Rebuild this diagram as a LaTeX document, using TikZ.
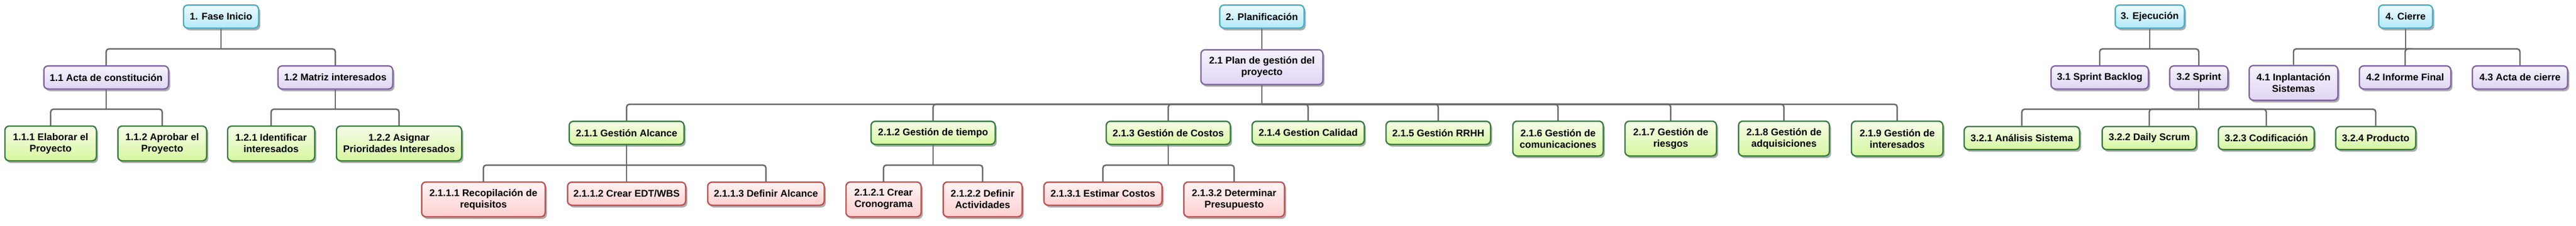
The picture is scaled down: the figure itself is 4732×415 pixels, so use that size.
\documentclass[tikz,border=0pt]{standalone}
\usepackage{fontspec}
\setmainfont{Liberation Sans}
\usetikzlibrary{shadows}
\definecolor{cianborde}{RGB}{75,172,198}
\definecolor{ciansup}{RGB}{236,251,255}
\definecolor{cianinf}{RGB}{180,233,250}
\definecolor{moradoborde}{RGB}{128,100,162}
\definecolor{moradosup}{RGB}{246,243,252}
\definecolor{moradoinf}{RGB}{224,214,245}
\definecolor{verdeborde}{RGB}{52,124,64}
\definecolor{verdesup}{RGB}{246,252,232}
\definecolor{verdeinf}{RGB}{214,247,160}
\definecolor{rojoborde}{RGB}{192,80,77}
\definecolor{rojosup}{RGB}{255,243,243}
\definecolor{rojoinf}{RGB}{255,208,208}
\definecolor{sombra}{RGB}{172,172,172}
\definecolor{gris}{RGB}{102,102,102}
\tikzset{
	caja/.style={rounded corners=8pt, line width=2.5pt, align=center, inner sep=2pt,
		font=\bfseries\fontsize{18}{21}\selectfont,
		drop shadow={shadow xshift=3pt, shadow yshift=-4pt, fill=sombra, opacity=1}},
	fase/.style={caja, draw=cianborde, top color=ciansup, bottom color=cianinf},
	entrega/.style={caja, draw=moradoborde, top color=moradosup, bottom color=moradoinf},
	paquete/.style={caja, draw=verdeborde, top color=verdesup, bottom color=verdeinf},
	tarea/.style={caja, draw=rojoborde, top color=rojosup, bottom color=rojoinf},
	una/.style={minimum height=42.5pt},
	dos/.style={minimum height=64pt},
	conn/.style={line width=2.6pt, draw=gris, rounded corners=5pt}
}

\begin{document}
\begin{tikzpicture}[x=1pt, y=-1pt]
			%%%%% START %%%%%
			
			\fill[white] (0, 0) rectangle (4732, 415);
			\useasboundingbox (0, 0) rectangle (4732, 415);
			
			\coordinate (b1) at (0, 90);
			\coordinate (b2) at (0, 201);
			\coordinate (b3) at (0, 192);
			\coordinate (b4) at (0, 304);
			
			\node[fase, una, minimum width=138pt] (f1) at (406, 30.5) {1. Fase Inicio};
			\node[fase, una, minimum width=155pt] (f2) at (2318, 30.5) {2. Planificación};
			\node[fase, una, minimum width=127pt] (f3) at (3949, 30.5) {3. Ejecución};
			\node[fase, una, minimum width=99pt] (f4) at (4419, 30.5) {4. Cierre};
			
			\node[entrega, una, minimum width=229pt] (a11) at (195, 142.5) {1.1 Acta de constitución};
			\node[entrega, una, minimum width=211pt] (a12) at (616, 142.5) {1.2 Matriz interesados};
			\node[entrega, dos, minimum width=224pt] (p21) at (2318, 123.5) {2.1 Plan de gestión del\\proyecto};
			\node[entrega, una, minimum width=179pt] (e31) at (3857, 142.5) {3.1 Sprint Backlog};
			\node[entrega, una, minimum width=107pt] (e32) at (4039, 142.5) {3.2 Sprint};
			\node[entrega, dos, minimum width=163pt] (c41) at (4213, 152.5) {4.1 Inplantación\\Sistemas};
			\node[entrega, una, minimum width=168pt] (c42) at (4418, 142.5) {4.2 Informe Final};
			\node[entrega, una, minimum width=175pt] (c43) at (4629, 142.5) {4.3 Acta de cierre};
			
			\node[paquete, dos, minimum width=168pt] (a111) at (93, 264) {1.1.1 Elaborar el\\Proyecto};
			\node[paquete, dos, minimum width=163pt] (a112) at (298, 264) {1.1.2 Aprobar el\\Proyecto};
			\node[paquete, dos, minimum width=160pt] (a121) at (498, 264) {1.2.1 Identificar\\interesados};
			\node[paquete, dos, minimum width=230pt] (a122) at (733, 264) {1.2.2 Asignar\\Prioridades Interesados};
			
			\node[paquete, una, minimum width=211pt] (g1) at (1151, 244.5) {2.1.1 Gestión Alcance};
			\node[paquete, una, minimum width=228pt] (g2) at (1714, 244.5) {2.1.2 Gestión de tiempo};
			\node[paquete, una, minimum width=228pt] (g3) at (2146, 244.5) {2.1.3 Gestión de Costos};
			\node[paquete, una, minimum width=206pt] (g4) at (2403, 244.5) {2.1.4 Gestion Calidad};
			\node[paquete, una, minimum width=192pt] (g5) at (2642, 244.5) {2.1.5 Gestión RRHH};
			\node[paquete, dos, minimum width=166pt] (g6) at (2862, 255) {2.1.6 Gestión de\\comunicaciones};
			\node[paquete, dos, minimum width=168pt] (g7) at (3069, 255) {2.1.7 Gestión de\\riesgos};
			\node[paquete, dos, minimum width=167pt] (g8) at (3277, 255) {2.1.8 Gestión de\\adquisiciones};
			\node[paquete, dos, minimum width=168pt] (g9) at (3485, 255) {2.1.9 Gestión de\\interesados};
			
			\node[paquete, una, minimum width=212pt] (s1) at (3714, 254) {3.2.1 Análisis Sistema};
			\node[paquete, una, minimum width=173pt] (s2) at (3948, 254) {3.2.2 Daily Scrum};
			\node[paquete, una, minimum width=176pt] (s3) at (4163, 254) {3.2.3 Codificación};
			\node[paquete, una, minimum width=147pt] (s4) at (4364, 254) {3.2.4 Producto};
			
			\node[tarea, dos, minimum width=227pt] (t111) at (888, 367) {2.1.1.1 Recopilación de\\requisitos};
			\node[tarea, una, minimum width=217pt] (t112) at (1151, 356.5) {2.1.1.2 Crear EDT/WBS};
			\node[tarea, una, minimum width=214pt] (t113) at (1407, 356.5) {2.1.1.3 Definir Alcance};
			\node[tarea, dos, minimum width=138pt] (t121) at (1623, 367) {2.1.2.1 Crear\\Cronograma};
			\node[tarea, dos, minimum width=145pt] (t122) at (1805, 367) {2.1.2.2 Definir\\Actividades};
			\node[tarea, una, minimum width=217pt] (t131) at (2026, 356.5) {2.1.3.1 Estimar Costos};
			\node[tarea, dos, minimum width=185pt] (t132) at (2267, 367) {2.1.3.2 Determinar\\Presupuesto};
			
			\draw[conn] (f1.south) -- (f1.south |- b1);
			\foreach \h in {a11, a12} \draw[conn] (f1.south |- b1) -| (\h.north);
			\draw[conn] (a11.south) -- (a11.south |- b2);
			\foreach \h in {a111, a112} \draw[conn] (a11.south |- b2) -| (\h.north);
			\draw[conn] (a12.south) -- (a12.south |- b2);
			\foreach \h in {a121, a122} \draw[conn] (a12.south |- b2) -| (\h.north);
			
			\draw[conn] (f2.south) -- (p21.north);
			\draw[conn] (p21.south) -- (p21.south |- b3);
			\foreach \h in {g1, g2, g3, g4, g5, g6, g7, g8, g9} \draw[conn] (p21.south |- b3) -| (\h.north);
			\draw[conn] (g1.south) -- (g1.south |- b4);
			\foreach \h in {t111, t112, t113} \draw[conn] (g1.south |- b4) -| (\h.north);
			\draw[conn] (g2.south) -- (g2.south |- b4);
			\foreach \h in {t121, t122} \draw[conn] (g2.south |- b4) -| (\h.north);
			\draw[conn] (g3.south) -- (g3.south |- b4);
			\foreach \h in {t131, t132} \draw[conn] (g3.south |- b4) -| (\h.north);
			
			\draw[conn] (f3.south) -- (f3.south |- b1);
			\foreach \h in {e31, e32} \draw[conn] (f3.south |- b1) -| (\h.north);
			\draw[conn] (e32.south) -- (e32.south |- b2);
			\foreach \h in {s1, s2, s3, s4} \draw[conn] (e32.south |- b2) -| (\h.north);
			
			\draw[conn] (f4.south) -- (f4.south |- b1);
			\foreach \h in {c41, c42, c43} \draw[conn] (f4.south |- b1) -| (\h.north);
			
			%%%%% END %%%%%
\end{tikzpicture}
\end{document}
